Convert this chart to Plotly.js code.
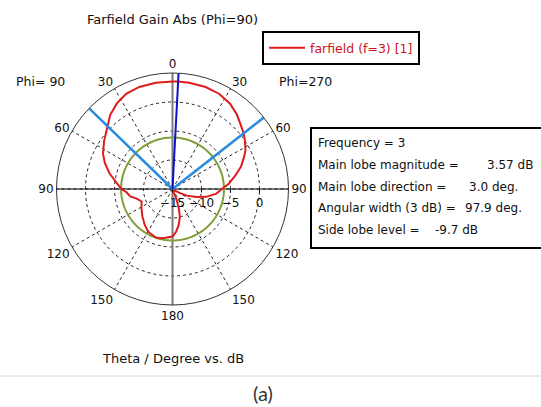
<!DOCTYPE html>
<html>
<head>
<meta charset="utf-8">
<script src="https://cdn.plot.ly/plotly-3.0.1.min.js"></script>
<style>
html,body{margin:0;padding:0;background:#fff;}
#chart{width:541px;height:407px;}
</style>
</head>
<body>
<div id="chart"></div>
<script>
// ---- data (display angle: degrees clockwise from top; right half = Phi 270 side) ----
const thetaDeg = [0, 3, 9, 18, 26, 34, 41, 48, 52, 56, 62, 66, 72, 78, 85, 90, 96, 103, 108, 115, 119, 125, 135, 150, 159, 162, 165, 170, 175, 180, 191, 198, 200, 210, 218, 228, 238, 248, 255, 260, 266, 270, 277, 284, 291, 297, 305, 314, 320, 327, 334, 342, 351, 360];
const gainDb   = [3.54, 3.57, 3.56, 3.48, 3.28, 2.75, 1.95, 1.0, 0.57, 0.05, -0.75, -1.5, -2.6, -3.95, -5.3, -6.5, -7.4, -9.0, -10.6, -12.3, -13.6, -14.6, -15, -15, -13.0, -11.5, -10.1, -8.75, -7.65, -6.8, -6.35, -6.15, -6.2, -6.55, -7.2, -8.0, -8.7, -9.25, -8.6, -7.6, -7.05, -6.2, -5.2, -3.8, -2.5, -1.55, -0.6, 0.57, 1.7, 2.6, 3.25, 3.5, 3.54, 3.54];

const seriesName = "farfield (f=3) [1]";
const mainLobeDir = 3.0;          // deg
const mainLobeMag = 3.57;         // dB
const angularWidth = 97.9;        // deg (3 dB)
const sideLobeRel = -9.7;         // dB relative to main lobe
const frequency = 3;

const radialRange = [-15, 5];
const radialTicks = [-15, -10, -5, 0];
const angleTickVals = [0, 30, 60, 90, 120, 150, 180, 210, 240, 270, 300, 330];
const angleTickText = ["0", "30", "60", "90", "120", "150", "180", "150", "120", "90", "60", "30"];

const infoLabels = ["Frequency = " + frequency, "Main lobe magnitude =", "Main lobe direction =", "Angular width (3 dB) =", "Side lobe level ="];
const infoValues = ["", mainLobeMag.toFixed(2) + " dB", mainLobeDir.toFixed(1) + " deg.", angularWidth.toFixed(1) + " deg.", sideLobeRel.toFixed(1) + " dB"];

// ---- derived ----
const W = 541, H = 407;
const cx = 172.5, cy = 189, R = 116;
const px = x => x / W;
const py = y => 1 - y / H;
const rMin = radialRange[0], rMax = radialRange[1];
const sideLobeAbs = mainLobeMag + sideLobeRel;
const halfW = angularWidth / 2;

const circleTheta = [];
for (let a = 0; a <= 360; a += 2) circleTheta.push(a);

const FONT = "DejaVu Sans";
const TXT = "#111";

const traces = [
  { type: "scatterpolar", mode: "lines", r: [rMax, rMin, rMax], theta: [0, 0, 180],
    line: { color: "#7a7a7a", width: 2 }, showlegend: false, hoverinfo: "skip" },
  { type: "scatterpolar", mode: "lines", r: [rMax, rMin, rMax], theta: [90, 0, 270],
    line: { color: "#000", width: 1.2 }, showlegend: false, hoverinfo: "skip" },
  { type: "scatterpolar", mode: "lines", r: circleTheta.map(() => sideLobeAbs), theta: circleTheta,
    line: { color: "#7f9f3a", width: 2 }, showlegend: false, hoverinfo: "skip" },
  { type: "scatterpolar", mode: "lines", r: gainDb, theta: thetaDeg, name: seriesName,
    line: { color: "#e01b1b", width: 2 }, showlegend: true },
  { type: "scatterpolar", mode: "lines", r: [rMax, rMin, rMax],
    theta: [360 + mainLobeDir - halfW, 0, mainLobeDir + halfW],
    line: { color: "#2b8be0", width: 2.5 }, showlegend: false, hoverinfo: "skip" },
  { type: "scatterpolar", mode: "lines", r: [rMin, rMax], theta: [mainLobeDir, mainLobeDir],
    line: { color: "#1010c8", width: 2 }, showlegend: false, hoverinfo: "skip" }
];

const annotations = [
  { text: "Farfield Gain Abs (Phi=90)", x: px(cx), y: py(20), xanchor: "center", yanchor: "middle", font: { family: FONT, size: 13, color: TXT } },
  { text: "Phi= 90", x: px(14), y: py(81), xanchor: "left", yanchor: "middle", font: { family: FONT, size: 12.5, color: TXT } },
  { text: "Phi=270", x: px(277), y: py(81), xanchor: "left", yanchor: "middle", font: { family: FONT, size: 12.5, color: TXT } },
  { text: "Theta / Degree vs. dB", x: px(cx), y: py(358), xanchor: "center", yanchor: "middle", font: { family: FONT, size: 13, color: TXT } },
  { text: "(a)", x: px(263), y: py(393), xanchor: "center", yanchor: "middle",
    font: { family: "Lato", size: 20, color: "#333" } }
];
const infoY = [143, 165, 187, 208, 230];
const valueX = [0, 485, 467, 463, 433];
infoLabels.forEach((t, i) => annotations.push({ text: t, x: px(316), y: py(infoY[i]), xanchor: "left", yanchor: "middle" }));
infoValues.forEach((t, i) => { if (t) annotations.push({ text: t, x: px(valueX[i]), y: py(infoY[i]), xanchor: "left", yanchor: "middle" }); });
annotations.forEach(a => { a.xref = "paper"; a.yref = "paper"; a.showarrow = false;
  if (!a.font) a.font = { family: FONT, size: 12, color: TXT }; });

const layout = {
  width: W, height: H, autosize: false,
  margin: { l: 0, r: 0, t: 0, b: 0 },
  paper_bgcolor: "#fff", plot_bgcolor: "#fff",
  font: { family: FONT, size: 12, color: TXT },
  showlegend: true,
  legend: { x: px(262), y: py(31), xanchor: "left", yanchor: "top",
    bordercolor: "#000", borderwidth: 2, bgcolor: "#fff", itemwidth: 36,
    font: { family: FONT, size: 12.5, color: "#d0141e" } },
  polar: {
    domain: { x: [px(cx - R), px(cx + R)], y: [py(cy + R), py(cy - R)] },
    bgcolor: "#fff",
    angularaxis: { rotation: 90, direction: "clockwise", tickmode: "array",
      tickvals: angleTickVals, ticktext: angleTickText,
      showline: true, linecolor: "#333", linewidth: 1,
      showgrid: true, gridcolor: "#222", griddash: "3px,3px", gridwidth: 1,
      ticks: "", tickfont: { family: FONT, size: 12, color: TXT } },
    radialaxis: { range: radialRange, tickmode: "array", tickvals: radialTicks,
      angle: 0, side: "clockwise", showline: false,
      showgrid: true, gridcolor: "#222", griddash: "3px,3px", gridwidth: 1,
      ticks: "outside", ticklen: 3, tickcolor: "#000",
      tickfont: { family: FONT, size: 12, color: TXT } }
  },
  shapes: [
    { type: "rect", xref: "paper", yref: "paper", x0: px(311), x1: px(560), y0: py(248), y1: py(128),
      line: { color: "#000", width: 2 }, fillcolor: "rgba(0,0,0,0)" },
    { type: "line", xref: "paper", yref: "paper", x0: 0, x1: 1, y0: py(376), y1: py(376),
      line: { color: "#d8d8d8", width: 1 } }
  ],
  annotations: annotations
};

Plotly.newPlot("chart", traces, layout, { staticPlot: true, displayModeBar: false });
</script>
</body>
</html>
